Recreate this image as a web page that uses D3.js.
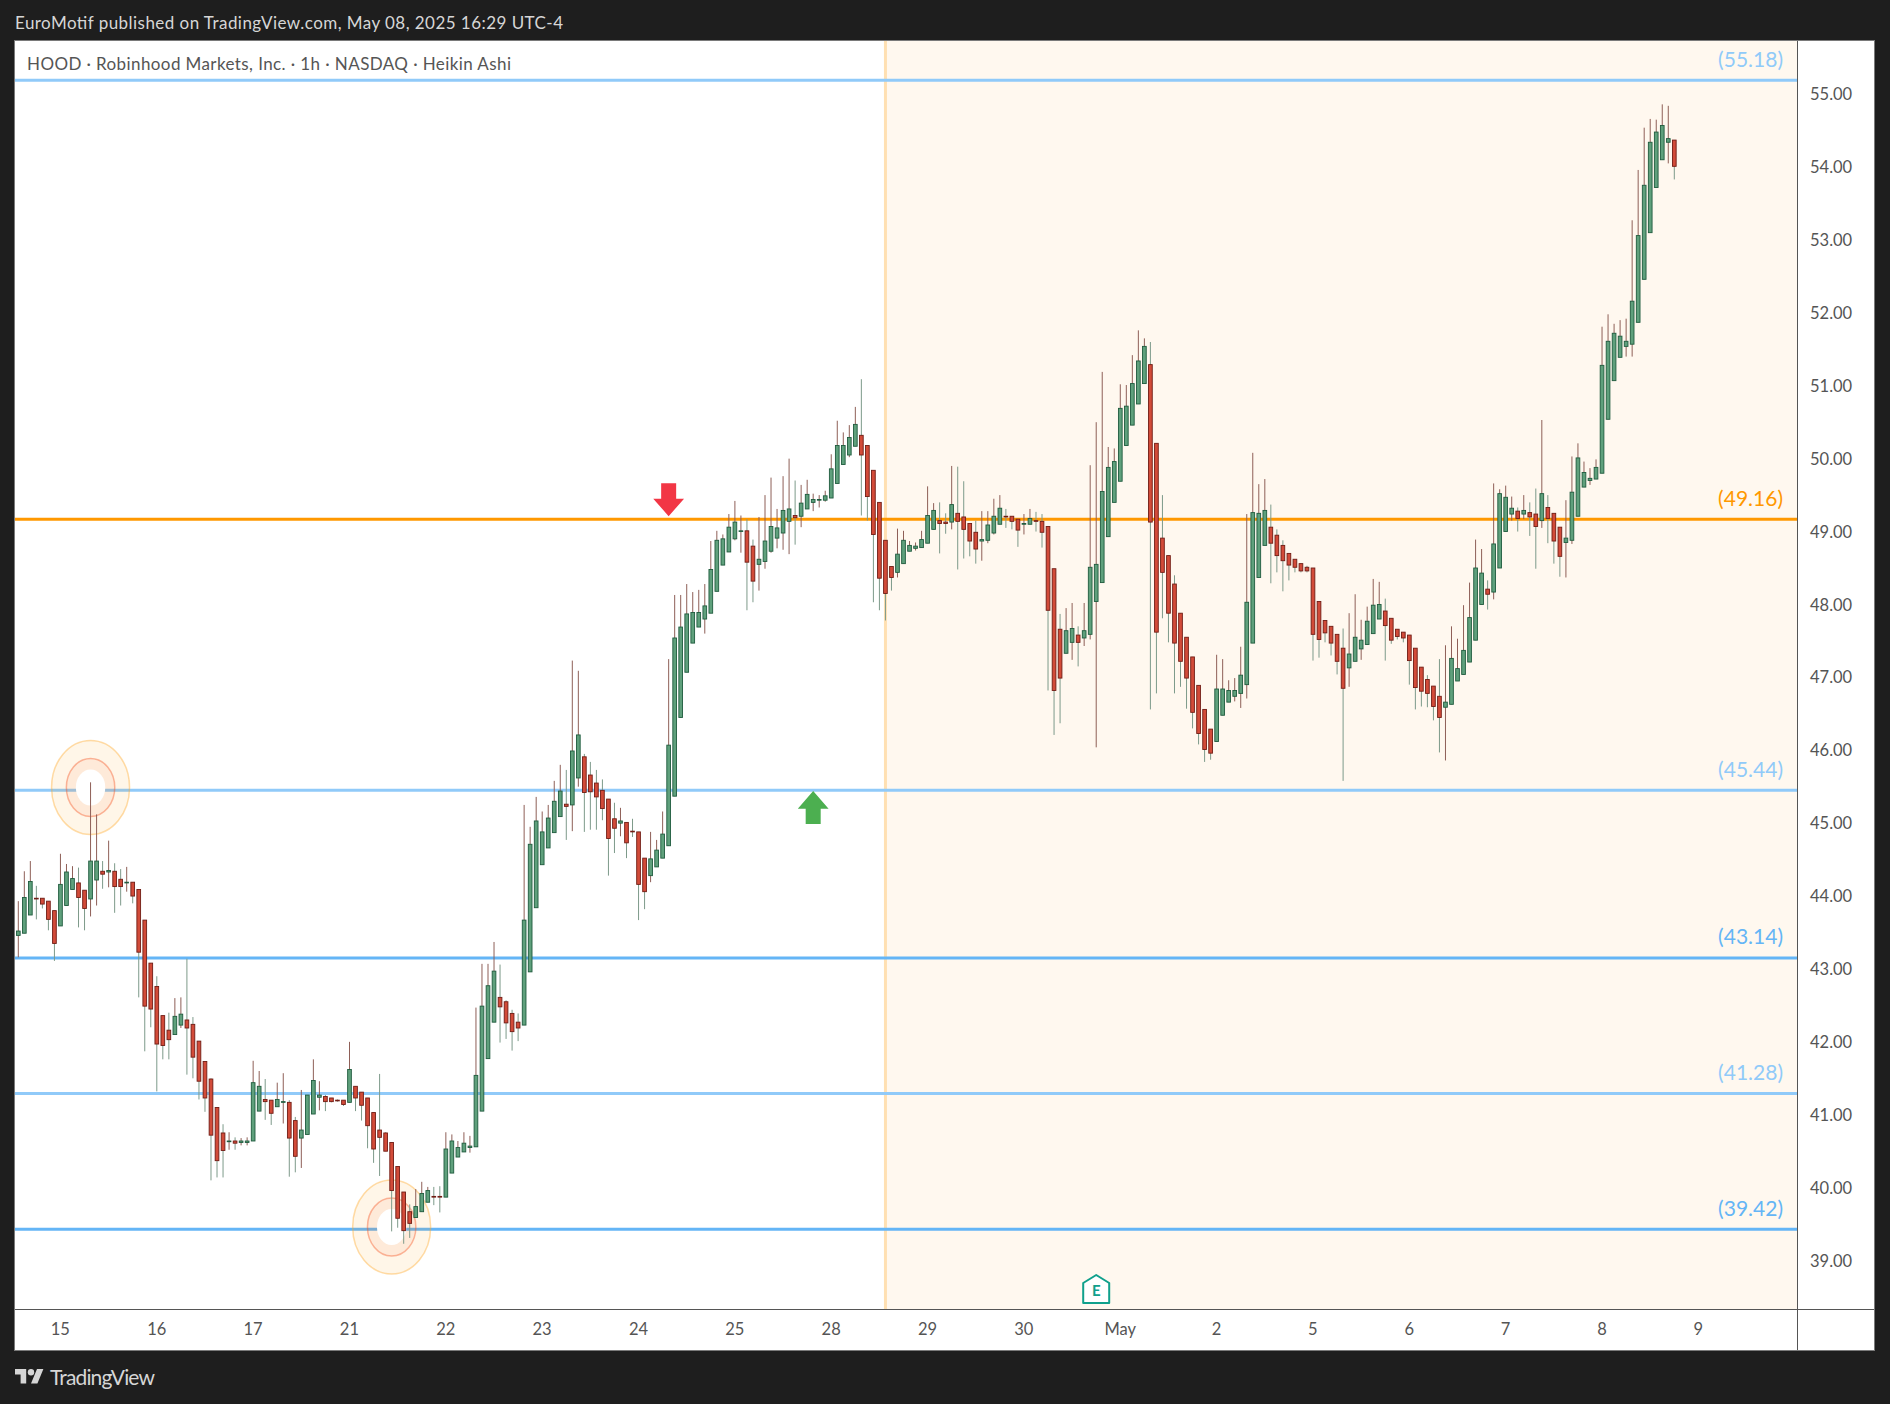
<!DOCTYPE html>
<html><head><meta charset="utf-8">
<script src="https://cdn.jsdelivr.net/npm/d3@7"></script>
<style>html,body{margin:0;padding:0;background:#1e1e1e;overflow:hidden}svg{display:block}text{font-family:Lato,"Noto Sans",sans-serif}</style>
</head><body><svg id="c" width="1890" height="1404"></svg>
<script>
const opens=[
43.45,43.48,43.73,43.96,43.96,43.92,43.79,43.58,43.86,44.08,44.17,44.07,43.95,44.21,44.33,44.32,44.33,44.22,44.17,44.18,
44.08,43.66,43.07,42.75,42.35,42.15,42.09,42.22,42.29,42.23,42.00,41.72,41.48,41.09,40.74,40.62,40.63,40.61,40.61,40.63,
41.04,41.20,41.19,41.10,41.16,41.16,40.91,40.67,40.72,41.00,41.23,41.24,41.22,41.19,41.19,41.16,41.38,41.30,41.22,41.02,
40.78,40.74,40.61,40.28,39.93,39.66,39.58,39.66,39.79,39.87,39.87,39.86,40.19,40.41,40.48,40.54,40.55,41.04,41.76,42.26,
42.60,42.54,42.38,42.26,42.22,42.95,43.83,44.42,44.65,44.86,45.08,45.25,45.24,45.61,45.90,45.65,45.54,45.44,45.32,45.05,
44.99,45.00,44.88,44.87,44.51,44.27,44.39,44.51,44.68,45.36,46.44,47.06,47.46,47.68,47.79,47.87,48.17,48.53,48.71,48.89,
48.99,49.00,48.79,48.54,48.58,48.72,48.90,48.97,49.13,49.21,49.20,49.30,49.39,49.42,49.42,49.45,49.65,49.91,50.04,50.16,
50.31,50.17,49.83,49.39,48.87,48.51,48.43,48.55,48.72,48.76,48.77,48.83,49.02,49.14,49.12,49.12,49.24,49.19,49.10,48.98,
48.86,48.87,48.97,49.09,49.20,49.20,49.16,49.09,49.09,49.14,49.13,49.06,48.48,47.65,47.32,47.47,47.57,47.53,47.58,48.03,
48.29,48.92,49.39,49.68,50.17,50.45,50.74,51.02,51.28,50.20,48.90,48.66,48.27,47.87,47.54,47.27,46.88,46.55,46.28,46.11,
46.47,46.65,46.73,46.77,46.89,47.46,48.36,48.80,49.05,48.94,48.80,48.69,48.61,48.55,48.50,48.49,48.03,47.77,47.69,47.58,
47.39,47.12,47.21,47.38,47.44,47.59,47.79,47.90,47.80,47.65,47.61,47.57,47.39,47.13,46.96,46.87,46.73,46.58,46.62,46.94,
47.03,47.20,47.50,47.99,48.20,48.16,48.49,48.99,49.23,49.27,49.23,49.25,49.23,49.14,49.32,49.24,49.05,48.84,48.87,49.20,
49.60,49.69,49.71,49.79,50.53,51.06,51.38,51.53,51.56,51.86,52.45,53.09,53.71,54.09,54.33,54.36];
const highs=[
43.92,44.33,44.47,44.13,43.96,43.92,43.79,44.57,44.43,44.40,44.38,44.07,45.55,45.11,44.47,44.75,44.44,44.36,44.39,44.18,
44.08,43.66,43.07,42.89,42.35,42.39,42.59,42.60,43.13,42.33,42.00,41.72,41.49,41.09,40.86,40.75,40.68,40.67,40.68,41.73,
41.59,41.48,41.19,41.43,41.56,41.19,40.96,41.33,41.26,41.75,41.45,41.26,41.22,41.20,41.19,41.99,41.38,41.30,41.22,41.02,
41.55,40.75,40.61,40.28,39.93,39.76,39.97,40.07,40.00,40.00,40.01,40.75,40.72,40.63,40.75,40.70,42.46,43.06,43.06,43.36,
43.05,42.56,42.43,42.38,45.24,44.94,45.35,45.15,45.24,45.57,45.79,45.72,47.22,47.08,45.94,45.83,45.72,45.59,45.32,45.27,
45.20,45.00,45.05,44.87,44.51,44.87,44.76,45.15,47.24,48.12,48.12,48.27,48.16,48.19,48.27,48.86,49.00,48.95,49.23,49.41,
49.21,49.16,48.88,49.19,49.49,49.73,49.30,49.75,49.99,49.69,49.63,49.70,49.51,49.49,49.55,50.05,50.51,50.35,50.45,50.70,
51.08,50.17,49.83,49.39,48.87,48.51,49.03,49.00,48.86,48.84,49.00,49.61,49.38,49.39,49.24,49.89,49.88,49.68,49.10,49.14,
49.27,49.27,49.44,49.49,49.30,49.20,49.16,49.23,49.30,49.26,49.23,49.06,48.48,47.86,47.94,48.01,47.69,48.01,49.90,50.49,
51.18,50.15,50.13,51.01,51.00,51.41,51.75,51.64,51.59,50.20,49.49,48.66,48.39,47.87,47.54,47.27,46.88,46.55,46.28,47.30,
47.24,46.95,46.98,47.41,49.23,50.07,49.64,49.71,49.36,49.02,48.87,48.69,48.61,48.55,48.52,48.49,48.03,47.77,47.69,47.58,
47.66,47.87,48.13,47.78,47.96,48.34,48.30,48.07,47.80,47.65,47.61,47.57,47.39,47.13,47.02,46.87,47.24,47.43,47.69,47.52,
47.98,48.29,48.88,48.75,48.32,49.65,49.57,49.62,49.47,49.32,49.49,49.39,49.58,50.52,49.49,49.24,49.05,49.42,50.02,50.20,
49.95,49.86,49.98,51.80,51.97,51.84,51.89,51.91,53.26,53.95,54.53,54.65,54.64,54.85,54.83,54.36];
const lows=[
43.15,43.48,43.73,43.67,43.82,43.52,43.10,43.58,43.86,44.08,43.56,43.52,43.71,43.86,44.09,44.11,43.76,43.86,44.05,43.89,
42.60,41.86,42.19,41.31,41.75,41.75,42.09,42.18,41.54,41.49,41.20,41.03,40.09,40.13,40.13,40.51,40.51,40.57,40.57,40.63,
41.04,40.92,40.85,41.10,40.87,40.14,40.20,40.26,40.72,41.00,41.05,41.04,41.16,41.17,41.11,41.16,41.04,40.91,40.53,40.33,
40.15,40.49,39.39,39.44,39.22,39.30,39.58,39.66,39.79,39.75,39.65,39.86,40.19,40.41,40.48,40.47,40.55,41.04,41.76,42.26,
41.98,42.03,41.87,42.00,42.22,42.95,43.83,44.42,44.65,44.86,45.08,44.76,44.88,45.49,44.87,44.90,44.90,45.03,44.27,44.58,
44.81,44.51,44.80,43.66,43.81,44.18,44.39,44.51,44.68,45.36,46.44,47.06,47.46,47.68,47.59,47.87,48.17,48.53,48.71,48.87,
48.70,47.91,48.02,48.18,48.48,48.70,48.76,48.74,48.68,48.81,49.05,49.30,49.27,49.32,49.40,49.45,49.65,49.91,50.01,50.16,
49.21,49.14,48.02,47.91,47.77,48.18,48.36,48.55,48.72,48.73,48.77,48.83,49.02,48.69,48.96,49.02,48.47,48.62,48.65,48.55,
48.59,48.83,48.95,49.09,49.04,49.02,48.78,48.95,49.09,48.99,48.77,46.81,46.20,46.36,47.32,47.23,47.14,47.42,47.51,46.03,
48.29,48.92,49.39,49.68,50.17,50.45,50.74,51.02,46.55,46.77,47.80,47.47,46.77,46.86,46.56,46.29,46.07,45.83,45.86,46.11,
46.47,46.65,46.66,46.57,46.70,47.46,48.36,48.80,48.28,48.43,48.17,48.32,48.43,48.43,48.43,47.22,47.26,47.47,47.29,47.03,
45.57,46.86,47.21,47.23,47.44,47.59,47.79,47.22,47.45,47.51,47.47,46.89,46.55,46.59,46.58,46.40,45.96,45.85,46.62,46.94,
47.03,47.20,47.50,47.99,47.92,48.06,48.49,48.99,49.14,48.99,49.16,48.93,48.48,49.04,48.83,48.55,48.37,48.36,48.82,49.20,
49.60,49.63,49.71,49.79,50.53,51.06,51.38,51.39,51.39,51.86,52.45,53.09,53.71,54.09,54.04,53.82];
const closes=[
43.51,43.97,44.19,43.95,43.88,43.67,43.34,44.15,44.32,44.23,43.97,43.82,44.47,44.47,44.29,44.34,44.12,44.12,44.18,43.99,
43.22,42.48,42.44,41.96,41.94,42.02,42.34,42.37,42.18,41.78,41.45,41.22,40.71,40.36,40.50,40.63,40.60,40.63,40.63,41.43,
41.38,41.17,41.01,41.20,41.17,40.67,40.42,40.78,41.26,41.46,41.26,41.17,41.17,41.18,41.13,41.61,41.22,41.12,40.84,40.52,
40.68,40.49,39.95,39.57,39.40,39.50,39.73,39.91,39.95,39.86,39.86,40.52,40.63,40.54,40.60,40.56,41.53,42.48,42.76,42.96,
42.47,42.25,42.13,42.18,43.66,44.70,45.02,44.87,45.06,45.29,45.43,45.22,45.98,46.20,45.41,45.42,45.35,45.19,44.78,44.92,
45.02,44.72,44.87,44.15,44.05,44.50,44.62,44.84,46.06,47.53,47.68,47.86,47.88,47.88,47.97,48.47,48.87,48.89,49.05,49.12,
49.00,48.57,48.31,48.61,48.86,49.06,49.04,49.28,49.30,49.18,49.38,49.50,49.43,49.43,49.48,49.85,50.17,50.17,50.28,50.46,
50.04,49.47,48.95,48.35,48.14,48.36,48.68,48.87,48.80,48.79,48.88,49.21,49.28,49.10,49.10,49.36,49.13,49.02,48.86,48.75,
48.88,49.08,49.20,49.31,49.19,49.13,49.01,49.10,49.17,49.13,48.98,47.91,46.81,46.98,47.63,47.66,47.47,47.63,48.50,48.54,
49.54,49.87,49.95,50.68,50.71,51.02,51.33,51.53,49.12,47.61,48.43,47.87,47.46,47.21,46.98,46.51,46.22,46.00,45.95,46.83,
46.83,46.81,46.81,47.02,48.02,49.25,49.24,49.28,48.83,48.66,48.59,48.53,48.50,48.45,48.45,47.58,47.51,47.60,47.46,47.21,
46.84,47.31,47.54,47.50,47.76,47.98,47.99,47.70,47.50,47.55,47.53,47.22,46.85,46.80,46.77,46.59,46.44,46.65,47.25,47.11,
47.36,47.81,48.49,48.42,48.13,48.82,49.51,49.46,49.31,49.17,49.28,49.19,49.06,49.51,49.17,48.86,48.65,48.90,49.53,50.00,
49.80,49.72,49.87,51.27,51.60,51.71,51.67,51.60,52.15,53.05,53.74,54.33,54.47,54.56,54.38,54.00];
const dateTickIndex=[7,23,39,55,71,87,103,119,135,151,167,183,199,215,231,247,263,279];
const dateTickLabels=['15','16','17','21','22','23','24','25','28','29','30','May','2','5','6','7','8','9'];
const priceTicks=[39,40,41,42,43,44,45,46,47,48,49,50,51,52,53,54,55];
const levelPrices=[55.18,49.16,45.44,43.14,41.28,39.42];
const levelColors=['#90caf9','#ff9800','#90caf9','#64b5f6','#90caf9','#64b5f6'];
const shadeStartIndex=144;
const ringIndex=[12,62];
const ringPrice=[45.48,39.45];

const svg=d3.select('#c');
const W=1890,H=1404,L=15,R=1797,RA=1874,T=41,B=1309,BA=1350;
const x=d3.scaleLinear().domain([0,275]).range([18.3,1674.3]);
const y=d3.scaleLinear().domain([55.18,39.42]).range([80.3,1229.2]);

svg.append('rect').attr('width',W).attr('height',H).attr('fill','#1e1e1e');
svg.append('rect').attr('x',L-.5).attr('y',T-.5).attr('width',RA-L+1).attr('height',BA-T+1).attr('fill','#fff').attr('stroke','#7a7a7a');
svg.append('rect').attr('x',x(shadeStartIndex)).attr('y',T).attr('width',R-x(shadeStartIndex)).attr('height',B-T).attr('fill','#fff8ef');
svg.append('line').attr('x1',x(shadeStartIndex)).attr('x2',x(shadeStartIndex)).attr('y1',T).attr('y2',B).attr('stroke','#ffe0b2').attr('stroke-width',3);

svg.append('g').selectAll('line').data(levelPrices).join('line')
 .attr('x1',L).attr('x2',R).attr('y1',d=>y(d)).attr('y2',d=>y(d))
 .attr('stroke',(d,i)=>levelColors[i]).attr('stroke-width',3);

const rings=svg.append('g');
ringIndex.forEach((ri,k)=>{
  const cx=x(ri),cy=y(ringPrice[k]);
  rings.append('ellipse').attr('cx',cx).attr('cy',cy).attr('rx',39).attr('ry',47)
    .attr('fill','#ff9800').attr('fill-opacity',.09).attr('stroke','#ffa726').attr('stroke-opacity',.4).attr('stroke-width',1.5);
  rings.append('ellipse').attr('cx',cx).attr('cy',cy).attr('rx',24.2).attr('ry',29)
    .attr('fill','#f4511e').attr('fill-opacity',.07).attr('stroke','#f4511e').attr('stroke-opacity',.4).attr('stroke-width',1.5);
  rings.append('ellipse').attr('cx',cx).attr('cy',cy).attr('rx',14.7).attr('ry',18).attr('fill','#fff');
});

const idx=d3.range(opens.length);
const up=i=>closes[i]>=opens[i];
svg.append('g').selectAll('line').data(idx).join('line')
 .attr('x1',i=>x(i)).attr('x2',i=>x(i)).attr('y1',i=>y(highs[i])).attr('y2',i=>y(lows[i]))
 .attr('stroke',i=>up(i)?'#8e5f57':'#7d9a8a').attr('stroke-width',1);
const bw=3.7;
svg.append('g').selectAll('rect').data(idx).join('rect')
 .attr('x',i=>x(i)-bw/2).attr('width',bw)
 .attr('y',i=>y(Math.max(opens[i],closes[i])))
 .attr('height',i=>Math.abs(y(opens[i])-y(closes[i])))
 .attr('fill',i=>up(i)?'#5fa07c':'#d24b39')
 .attr('stroke',i=>up(i)?'#1f5b3e':'#701c14').attr('stroke-width',.9);

function arrow(xi,tipP,dir,col){
  const cx=x(xi),tip=y(tipP),s=dir;
  const pts=[[0,0],[-15.4,-17.6*s],[-7.5,-17.6*s],[-7.5,-33*s],[7.5,-33*s],[7.5,-17.6*s],[15.4,-17.6*s]];
  svg.append('polygon').attr('points',pts.map(p=>[cx+p[0],tip+p[1]].join(',')).join(' ')).attr('fill',col);
}
arrow(108,49.2,1,'#f23645');
arrow(132,45.43,-1,'#4caf50');

const ex=x(179);
svg.append('path').attr('d',`M${ex-13} 1303 L${ex-13} 1283 L${ex} 1275 L${ex+13} 1283 L${ex+13} 1303 Z`)
  .attr('fill','#fff').attr('stroke','#10a08c').attr('stroke-width',2).attr('stroke-linejoin','round');
svg.append('text').attr('x',ex).attr('y',1296).attr('text-anchor','middle').attr('font-size',15).attr('font-weight',700).attr('fill','#10a08c').text('E');

svg.append('g').selectAll('text').data(levelPrices).join('text')
 .attr('x',1783).attr('y',d=>y(d)-20.9).attr('dy','.35em').attr('text-anchor','end')
 .attr('font-size',21).attr('fill',(d,i)=>levelColors[i]).text(d=>'('+d.toFixed(2)+')');

const ya=d3.axisRight(y).tickValues(priceTicks).tickFormat(d3.format('.2f')).tickSize(0).tickPadding(13);
svg.append('g').attr('transform',`translate(${R},1)`).call(ya).call(g=>{g.select('.domain').remove();g.selectAll('text').attr('font-size',16.5).attr('fill','#555').style('font-family','Lato')});
const xa=d3.axisBottom(x).tickValues(dateTickIndex).tickFormat((d,i)=>dateTickLabels[i]).tickSize(0).tickPadding(14);
svg.append('g').attr('transform',`translate(-.6,${B})`).call(xa).call(g=>{g.select('.domain').remove();g.selectAll('text').attr('font-size',16.5).attr('fill','#555').style('font-family','Lato')});
svg.append('line').attr('x1',L).attr('x2',RA).attr('y1',B+.5).attr('y2',B+.5).attr('stroke','#555');
svg.append('line').attr('x1',R+.5).attr('x2',R+.5).attr('y1',T).attr('y2',BA).attr('stroke','#555');

svg.append('text').attr('x',15).attr('y',29).attr('font-size',17).attr('fill','#d6d6d6').attr('textLength',548).attr('lengthAdjust','spacing').text('EuroMotif published on TradingView.com, May 08, 2025 16:29 UTC-4');
svg.append('text').attr('x',27).attr('y',70).attr('font-size',17).attr('fill','#555').attr('textLength',484).attr('lengthAdjust','spacing').text('HOOD · Robinhood Markets, Inc. · 1h · NASDAQ · Heikin Ashi');
const logo=svg.append('g').attr('transform','translate(15,1365.8) scale(.8)').attr('fill','#d6d6d6');
logo.append('path').attr('d','M14 22H7V11H0V4h14v18zM28 22h-8l7.5-18h8L28 22z');
logo.append('circle').attr('cx',20).attr('cy',8).attr('r',4);
svg.append('text').attr('x',50).attr('y',1385).attr('font-size',21).attr('fill','#d6d6d6').attr('textLength',105).attr('lengthAdjust','spacing').text('TradingView');
</script></body></html>
